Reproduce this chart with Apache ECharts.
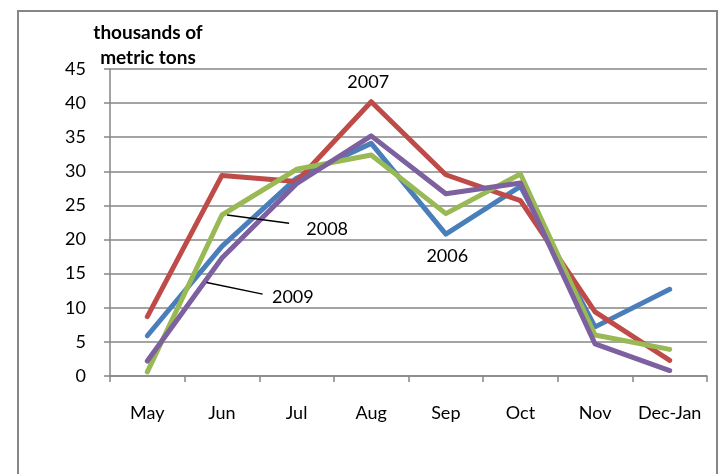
<!DOCTYPE html>
<html>
<head>
<meta charset="utf-8">
<script src="https://cdn.jsdelivr.net/npm/echarts@6/dist/echarts.min.js"></script>
<style>
  html, body { margin: 0; padding: 0; background: #fff; }
  #chart { width: 723px; height: 474px; }
</style>
</head>
<body>
<div id="chart"></div>
<script>
// Monthly volumes, thousands of metric tons
const categories = ['May', 'Jun', 'Jul', 'Aug', 'Sep', 'Oct', 'Nov', 'Dec-Jan'];
const yTicks = [0, 5, 10, 15, 20, 25, 30, 35, 40, 45];

const values2006 = [5.9, 19.0, 29.0, 34.1, 20.8, 27.8, 7.2, 12.7];
const values2007 = [8.7, 29.4, 28.5, 40.2, 29.5, 25.7, 9.4, 2.3];
const values2008 = [0.6, 23.6, 30.3, 32.4, 23.8, 29.6, 6.0, 3.9];
const values2009 = [2.2, 17.3, 28.2, 35.2, 26.7, 28.3, 4.7, 0.8];

// Series annotations, positioned in [category index, value] units
const seriesLabels = [
  { text: '2007', at: [2.96, 43.0] },
  { text: '2008', at: [2.41, 21.5] },
  { text: '2009', at: [1.95, 11.6] },
  { text: '2006', at: [4.02, 17.6] }
];
const leaderLines = [
  { from: [1.07, 23.6], to: [1.90, 22.4] },
  { from: [0.795, 13.7], to: [1.546, 12.0] }
];

const FONT = 'Lato, "Open Sans", sans-serif';
const chart = echarts.init(document.getElementById('chart'), null, { renderer: 'canvas' });

function lineSeries(name, data, color) {
  return {
    name: name,
    type: 'line',
    data: data,
    symbol: 'none',
    lineStyle: { color: color, width: 5, cap: 'round', join: 'round' },
    itemStyle: { color: color },
    animation: false
  };
}

chart.setOption({
  animation: false,
  textStyle: { fontFamily: FONT },
  title: {
    text: 'thousands of\nmetric tons',
    left: 143,
    top: 15,
    textAlign: 'center',
    textStyle: { fontFamily: FONT, fontSize: 19, fontWeight: 'bold', color: '#000', lineHeight: 25 }
  },
  grid: { left: 110, right: 16, top: 69, bottom: 98, containLabel: false },
  xAxis: {
    type: 'category',
    data: categories,
    boundaryGap: true,
    axisLine: { lineStyle: { color: '#868686', width: 1.5 } },
    axisTick: { show: true, length: 6, inside: false, lineStyle: { color: '#868686', width: 1.5 } },
    axisLabel: { color: '#000', fontSize: 18, margin: 28, fontFamily: FONT, interval: 0 },
    splitLine: { show: false }
  },
  yAxis: {
    type: 'value',
    min: yTicks[0],
    max: yTicks[yTicks.length - 1],
    interval: yTicks[1] - yTicks[0],
    axisLine: { show: true, lineStyle: { color: '#868686', width: 1.5 } },
    axisTick: { show: true, length: 6, lineStyle: { color: '#868686', width: 1.5 } },
    axisLabel: { color: '#000', fontSize: 18, margin: 24, fontFamily: FONT },
    splitLine: { show: true, lineStyle: { color: '#868686', width: 1.5 } }
  },
  series: [
    lineSeries('2006', values2006, '#4A7EBB'),
    lineSeries('2007', values2007, '#BE4B48'),
    lineSeries('2008', values2008, '#98B954'),
    lineSeries('2009', values2009, '#7D60A0')
  ]
});

// Map [category index, value] to pixels through the chart's own axes
function toPixel(pt) {
  const x0 = chart.convertToPixel({ xAxisIndex: 0 }, categories[0]);
  const x1 = chart.convertToPixel({ xAxisIndex: 0 }, categories[1]);
  const y = chart.convertToPixel({ yAxisIndex: 0 }, pt[1]);
  return [x0 + (x1 - x0) * pt[0], y];
}

const graphics = [
  {
    type: 'rect',
    shape: { x: 18, y: 11, width: 699, height: 480 },
    style: { fill: null, stroke: '#868686', lineWidth: 2 },
    silent: true,
    z: -1
  }
];
leaderLines.forEach(function (l) {
  const a = toPixel(l.from), b = toPixel(l.to);
  graphics.push({
    type: 'line',
    shape: { x1: a[0], y1: a[1], x2: b[0], y2: b[1] },
    style: { stroke: '#000', lineWidth: 1.5 },
    z: 10
  });
});
seriesLabels.forEach(function (s) {
  const p = toPixel(s.at);
  graphics.push({
    type: 'text',
    x: p[0],
    y: p[1],
    style: { text: s.text, fill: '#000', font: '18px ' + FONT, textAlign: 'center', textVerticalAlign: 'middle' },
    z: 10
  });
});
chart.setOption({ graphic: graphics });
</script>
</body>
</html>
